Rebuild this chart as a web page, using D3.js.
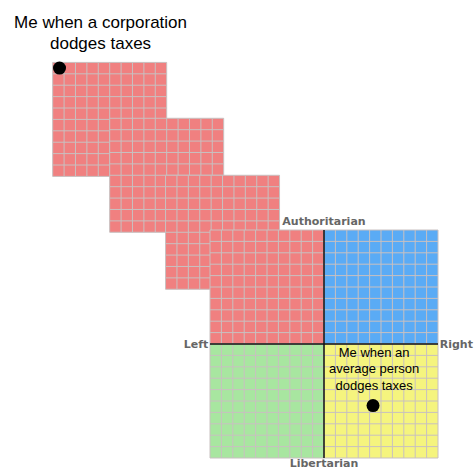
<!DOCTYPE html><html><head><meta charset="utf-8"><script src="https://cdn.jsdelivr.net/npm/d3@7"></script>
<style>body{margin:0;background:#fff}</style></head><body><svg id="c" width="474" height="474"></svg><script>
// compass units: each quadrant spans 10 units
const quadrants=[{x0:-10,y0:10,c:"#f08080"},{x0:0,y0:10,c:"#5aabf5"},{x0:-10,y0:0,c:"#a8e6a0"},{x0:0,y0:0,c:"#f5f47e"}];
const extraSquares=[{x0:-23.8,y0:24.7},{x0:-18.8,y0:19.8},{x0:-13.9,y0:14.8}];
const points=[{x:-23.2,y:24.2},{x:4.3,y:-5.4}];
const captions=[{x:-19.6,y:27.7,lines:["Me when a corporation","dodges taxes"],size:17},{x:4.4,y:-1.15,lines:["Me when an","average person","dodges taxes"],size:13}];
const axisLabels=[{t:"Authoritarian",x:0,y:10.45,a:"middle"},{t:"Libertarian",x:0,y:-10.75,a:"middle"},{t:"Left",x:-10.15,y:-0.35,a:"end"},{t:"Right",x:10.15,y:-0.35,a:"start"}];
const svg=d3.select("#c");
const x=d3.scaleLinear().domain([-10,10]).range([210,438]);
const y=d3.scaleLinear().domain([-10,10]).range([458,230]);
const u=x(1)-x(0);
function square(g,x0,y0,size,color){
  g.append("rect").attr("x",x(x0)).attr("y",y(y0)).attr("width",u*size).attr("height",u*size).attr("fill",color);
  for(let i=0;i<=size;i++){
    g.append("line").attr("x1",x(x0+i)).attr("x2",x(x0+i)).attr("y1",y(y0)).attr("y2",y(y0-size)).attr("stroke","#c8c0c0").attr("stroke-width",1);
    g.append("line").attr("y1",y(y0-i)).attr("y2",y(y0-i)).attr("x1",x(x0)).attr("x2",x(x0+size)).attr("stroke","#c8c0c0").attr("stroke-width",1);
  }
}
const g=svg.append("g");
extraSquares.forEach(s=>square(g,s.x0,s.y0,10,"#f08080"));
quadrants.forEach(q=>square(g,q.x0,q.y0,10,q.c));
svg.append("line").attr("x1",x(0)).attr("x2",x(0)).attr("y1",y(10)).attr("y2",y(-10)).attr("stroke","#111").attr("stroke-width",1.5);
svg.append("line").attr("y1",y(0)).attr("y2",y(0)).attr("x1",x(-10)).attr("x2",x(10)).attr("stroke","#111").attr("stroke-width",1.5);
axisLabels.forEach(l=>svg.append("text").attr("x",x(l.x)).attr("y",y(l.y)).attr("text-anchor",l.a).attr("font-family","DejaVu Sans, sans-serif").attr("font-weight","bold").attr("font-size",11).attr("fill","#666").text(l.t));
points.forEach(p=>svg.append("circle").attr("cx",x(p.x)).attr("cy",y(p.y)).attr("r",6.5).attr("fill","#000"));
captions.forEach(c=>{c.lines.forEach((t,i)=>svg.append("text").attr("x",x(c.x)).attr("y",y(c.y)+i*c.size*1.25).attr("text-anchor","middle").attr("font-family","Liberation Sans, Arial, sans-serif").attr("font-size",c.size).attr("fill","#000").text(t));});
</script></body></html>
